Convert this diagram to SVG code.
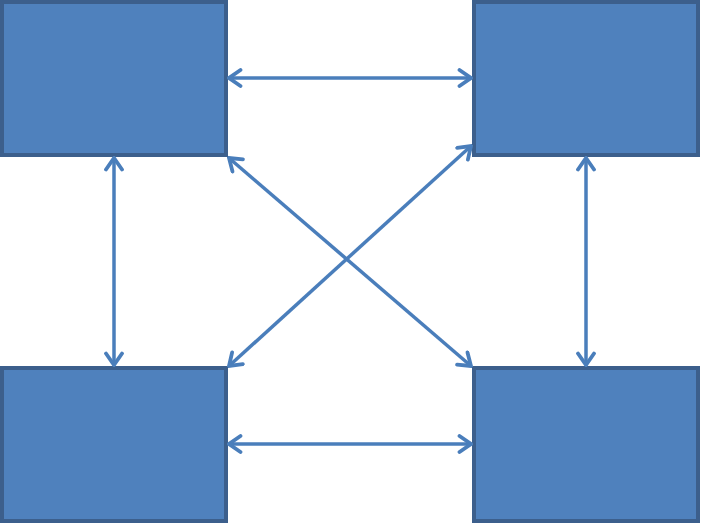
<svg xmlns="http://www.w3.org/2000/svg" width="701" height="524" viewBox="0 0 701 524">
<defs>
<style>
.box{fill:#4f81bd;stroke:#3c5f8c;stroke-width:4}
.con{stroke:#4a7ebb;stroke-width:3.5;fill:none;marker-start:url(#a);marker-end:url(#a)}
</style>
<marker id="a" viewBox="-14 -10 16 20" markerWidth="16" markerHeight="20" refX="0" refY="0" orient="auto-start-reverse" markerUnits="userSpaceOnUse">
<path d="M-11.5,-8 L0,0 L-11.5,8" fill="none" stroke="#4a7ebb" stroke-width="3.8" stroke-linecap="round" stroke-linejoin="miter"/>
</marker>
</defs>
<rect width="701" height="524" fill="#fff"/>
<g id="n1"><rect class="box" x="2" y="2" width="224" height="153"/></g>
<g id="n2"><rect class="box" x="474" y="2" width="224" height="153"/></g>
<g id="n3"><rect class="box" x="2" y="368" width="224" height="153"/></g>
<g id="n4"><rect class="box" x="474" y="368" width="224" height="153"/></g>
<g id="connectors">
<line class="con" x1="229" y1="78" x2="471" y2="78"/>
<line class="con" x1="229" y1="444" x2="471" y2="444"/>
<line class="con" x1="114" y1="158" x2="114" y2="365"/>
<line class="con" x1="586" y1="158" x2="586" y2="365"/>
<line class="con" x1="229" y1="158" x2="471" y2="366"/>
<line class="con" x1="471" y1="146" x2="229" y2="366"/>
</g>
</svg>
